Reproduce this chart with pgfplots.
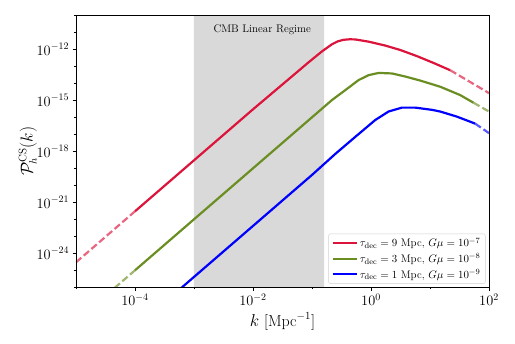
\documentclass[border=0pt]{standalone}
\usepackage{pgfplots}
\pgfplotsset{compat=1.18}
\definecolor{crim}{RGB}{220,20,60}
\definecolor{olive}{RGB}{107,142,35}
\definecolor{shade}{RGB}{217,217,217}
\begin{document}
\begin{tikzpicture}
\begin{axis}[name=ax,scale only axis,width=413bp,height=272bp,
  xmode=log,ymode=log,xmin=1e-5,xmax=1e2,ymin=1e-26,ymax=1e-10,
  xtick={1e-4,1e-2,1,1e2},minor xtick={1e-5,1e-3,1e-1,10},
  ytick={1e-24,1e-21,1e-18,1e-15,1e-12},
  minor ytick={1e-26,1e-25,1e-23,1e-22,1e-20,1e-19,1e-17,1e-16,1e-14,1e-13,1e-11,1e-10},
  tick align=outside,tick pos=left,major tick length=3.5bp,minor tick length=2bp,
  every tick/.style={black,line width=0.8bp},every minor tick/.style={line width=0.6bp},
  axis line style={line width=0.8bp},axis on top,
  tick label style={font=\fontsize{14.5bp}{17bp}\selectfont},
  label style={font=\fontsize{16bp}{19bp}\selectfont},
  xlabel={$k$ [Mpc$^{-1}$]},
  ylabel={$\mathcal{P}_h^{\mathrm{CS}}(k)$},
  xlabel style={at={(axis description cs:0.5,0)},anchor=base,yshift=-38.7bp},
  ylabel style={at={(axis description cs:-0.1162,0.5)},anchor=center},
  legend style={at={(1,0)},anchor=south east,xshift=-3.5bp,yshift=3.5bp,
    font=\fontsize{11bp}{13bp}\selectfont,draw=black!18,rounded corners=2bp,
    fill=white,inner xsep=3bp,inner ysep=2bp,row sep=1bp},
  legend cell align=left,
  legend image code/.code={\draw[#1] (0bp,0bp) -- (24bp,0bp);},
  every axis plot/.append style={line width=2.2bp},
]
\addplot[fill=shade,draw=none,forget plot] coordinates {(1e-3,1e-26)(0.16,1e-26)(0.16,1e-10)(1e-3,1e-10)} \closedcycle;
\node at (axis cs:0.01435,1.48e-11) {\fontsize{11bp}{13bp}\selectfont CMB Linear Regime};

\addplot[crim,opacity=0.65,dash pattern=on 7bp off 3.2bp,forget plot] coordinates {(1e-5,2.95e-25)(1e-4,2.95e-22)};
\addplot[crim,opacity=0.65,dash pattern=on 7bp off 3.2bp,forget plot] coordinates {(21.98,5.89e-14)(91.8,3.16e-15)(100,2.63e-15)};
\addplot[olive,opacity=0.65,dash pattern=on 7bp off 3.2bp,forget plot] coordinates {(1e-5,1e-28)(1e-4,1e-25)};
\addplot[olive,opacity=0.65,dash pattern=on 7bp off 3.2bp,forget plot] coordinates {(54.5,7.24e-16)(100,2.19e-16)};
\addplot[blue,opacity=0.65,dash pattern=on 7bp off 3.2bp,forget plot] coordinates {(58.1,4.27e-17)(100,1.17e-17)};

\addplot[crim] coordinates {(1e-4,2.95e-22)(1e-3,2.95e-19)(1e-2,2.95e-16)(5.24e-2,3.80e-14)(8.79e-2,1.74e-13)
  (0.148,7.59e-13)(0.219,2.00e-12)(0.275,2.95e-12)(0.344,3.63e-12)(0.437,3.89e-12)(0.542,3.80e-12)(0.910,2.82e-12)
  (1.746,1.66e-12)(3.13,9.12e-13)(6.00,3.98e-13)(11.46,1.58e-13)(21.98,5.89e-14)};
\addlegendentry{$\tau_{\rm dec} = 9$ Mpc, $G\mu = 10^{-7}$}
\addplot[olive] coordinates {(1e-4,1e-25)(1e-2,1e-19)(0.1,1e-16)(0.219,1.05e-15)(0.367,3.98e-15)(0.617,1.55e-14)
  (0.910,3.02e-14)(1.346,4.07e-14)(2.265,3.80e-14)(3.80,2.51e-14)(6.82,1.45e-14)(14.86,6.31e-15)(32.4,2.04e-15)(54.5,7.24e-16)};
\addlegendentry{$\tau_{\rm dec} = 3$ Mpc, $G\mu = 10^{-8}$}
\addplot[blue] coordinates {(1e-4,4.07e-29)(1e-2,4.07e-23)(0.1,4.07e-20)(0.249,7.08e-19)(0.542,7.08e-18)(1.18,6.92e-17)
  (1.986,2.19e-16)(3.35,3.72e-16)(5.62,3.72e-16)(10.76,2.75e-16)(14.86,2.19e-16)(28.5,1.10e-16)(58.1,4.27e-17)};
\addlegendentry{$\tau_{\rm dec} = 1$ Mpc, $G\mu = 10^{-9}$}
\end{axis}
\pgfresetboundingbox
\path[use as bounding box] ([xshift=-76bp,yshift=-56.7bp]ax.south west) rectangle ([xshift=26bp,yshift=15.3bp]ax.north east);
\end{tikzpicture}
\end{document}
